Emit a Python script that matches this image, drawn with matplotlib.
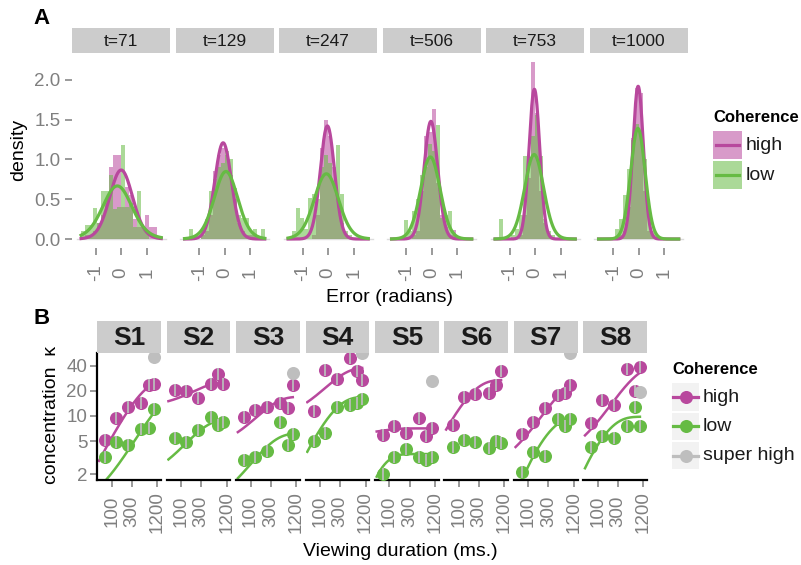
import numpy as np
import matplotlib
matplotlib.use("Agg")
import matplotlib.pyplot as plt
from matplotlib.patches import Rectangle

plt.rcParams['font.family'] = ['Liberation Sans', 'DejaVu Sans']
plt.rcParams['axes.unicode_minus'] = False

# ---- panel A: error histograms with von Mises fits ----
times = [71, 129, 247, 506, 753, 1000]
n_bins = 20
hist_high = [
    [0, 0.05, 0.05, 0.1, 0.2, 0.3, 0.5, 0.9, 1.05, 1.05, 0.4, 0.65, 0.55, 0.25, 0.15, 0.15, 0.3, 0.15, 0.15, 0],
    [0, 0, 0, 0, 0.05, 0.1, 0.3, 0.85, 1.05, 1.15, 1.05, 0.8, 0.5, 0.2, 0.1, 0.05, 0.05, 0.05, 0, 0],
    [0, 0, 0, 0, 0, 0, 0.05, 0.3, 1.15, 1.5, 1.3, 0.9, 0.5, 0.2, 0.05, 0, 0, 0, 0, 0],
    [0, 0, 0, 0, 0, 0.05, 0.1, 0.6, 1.29, 1.35, 1.64, 0.7, 0.3, 0.15, 0.05, 0.11, 0, 0, 0, 0],
    [0, 0, 0, 0, 0, 0, 0.05, 0.3, 0.77, 2.23, 1.58, 0.6, 0.2, 0.05, 0, 0, 0, 0, 0, 0],
    [0, 0, 0, 0, 0, 0.05, 0.1, 0.4, 1.27, 1.9, 1.83, 0.6, 0.1, 0.05, 0, 0, 0, 0, 0, 0],
]
hist_low = [
    [0.1, 0.18, 0.18, 0.39, 0.2, 0.6, 0.6, 0.8, 0.38, 0.4, 1.18, 0.4, 0.45, 0.15, 0.6, 0.15, 0.1, 0, 0, 0],
    [0, 0.13, 0, 0, 0.1, 0.25, 0.6, 0.75, 0.9, 0.95, 1.1, 1.0, 0.64, 0.3, 0.26, 0.26, 0.1, 0.13, 0, 0.13],
    [0, 0.1, 0.39, 0.26, 0.13, 0.52, 0.57, 0.5, 0.9, 1.06, 0.95, 0.7, 1.18, 0.57, 0.1, 0.05, 0, 0, 0, 0],
    [0, 0, 0, 0.24, 0.1, 0.35, 0.5, 0.8, 0.9, 1.19, 1.1, 1.43, 0.26, 0.3, 0.35, 0.05, 0, 0, 0, 0],
    [0, 0.25, 0, 0, 0.05, 0.13, 0.3, 1.04, 1.03, 1.3, 1.56, 1.04, 0.25, 0.1, 0.05, 0, 0, 0, 0, 0],
    [0, 0, 0, 0, 0.13, 0.25, 0.55, 0.88, 1.25, 1.45, 1.35, 1.01, 0.35, 0.1, 0.05, 0, 0, 0, 0, 0],
]
vm_kappa_high = [5.0, 9.45, 12.95, 14.0, 22.5, 23.4]
vm_kappa_low = [3.1, 4.8, 4.5, 6.95, 7.35, 12.4]
vm_mu_high = [0.0, -0.06, -0.03, -0.03, -0.03, -0.02]
vm_mu_low = [-0.15, 0.05, -0.07, -0.05, -0.04, -0.03]

# ---- panel B: concentration per subject ----
subjects = ['S1', 'S2', 'S3', 'S4', 'S5', 'S6', 'S7', 'S8']
durations = [71, 129, 247, 506, 753, 1000]
kappa_high = [
    [5.1, 9.4, 12.9, 14.2, 23.5, 23.9],
    [20.7, 19.8, 16.4, 24.0, 32.0, 24.0],
    [9.6, 11.8, 12.8, 14.2, 12.5, 23.5],
    [11.4, 36.0, 27.5, 49.0, 35.0, 27.0],
    [5.9, 7.5, 6.2, 9.4, 5.7, 7.1],
    [7.8, 17.0, 18.2, 18.8, 23.5, 34.5],
    [6.1, 8.4, 12.4, 17.8, 18.7, 23.2],
    [8.2, 15.5, 13.5, 36.5, 20.0, 38.3],
]
kappa_low = [
    [3.2, 4.9, 4.5, 7.0, 7.1, 12.0],
    [5.4, 4.9, 6.8, 9.8, 7.8, 8.5],
    [2.97, 3.25, 3.8, 8.4, 4.5, 6.15],
    [5.0, 6.25, 12.7, 13.7, 14.2, 16.0],
    [2.0, 3.25, 4.0, 3.2, 3.0, 3.2],
    [4.2, 5.2, 4.85, 4.15, 5.0, 4.7],
    [2.15, 3.7, 3.35, 9.1, 7.6, 9.1],
    [4.2, 5.7, 5.4, 7.5, 12.9, 7.6],
]
super_duration = 1000
kappa_super = [50.5, None, 32.4, 57.0, 26.5, None, 57.0, 19.3]
# saturating fits: kmax * (1 - exp(-(t - t0) / tau))
fit_high = [(27.6, 450, 0), (25.5, 250, -173), (17.0, 241, -64), (38.0, 232, -63),
            (7.1, 60, -100), (27.0, 170, 0), (29.0, 600, -45), (40.0, 600, -45)]
fit_low = [(21.7, 1500, -50), (9.14, 250, -50), (6.2, 234, -30), (17.0, 186, 4),
           (3.5, 43, 17), None, (9.7, 274, 18.5), (9.8, 148.5, 9)]

MAG = '#B8489D'
GRN = '#66BB44'
SUP = '#BEBEBE'
TICK = '#7F7F7F'
STRIP = '#CCCCCC'
TXT = '#1A1A1A'

W, H = 801, 565
fig = plt.figure(figsize=(W / 100, H / 100), dpi=100)


def box(l, t, r, b):
    return [l / W, 1 - b / H, (r - l) / W, (b - t) / H]


def strip(l, t, r, b, label, **kw):
    sa = fig.add_axes(box(l, t, r, b))
    sa.set_facecolor(STRIP)
    sa.set_xticks([])
    sa.set_yticks([])
    for s in sa.spines.values():
        s.set_visible(False)
    sa.text(0.5, 0.47, label, ha='center', va='center', color=TXT,
            transform=sa.transAxes, **kw)


def vonmises(x, mu, k):
    return np.exp(k * (np.cos(x - mu) - 1)) / (2 * np.pi * np.i0(k) * np.exp(-k))


edges = np.linspace(-np.pi / 2, np.pi / 2, n_bins + 1)
centers = (edges[:-1] + edges[1:]) / 2
bw = edges[1] - edges[0]
xs = np.linspace(-np.pi / 2, np.pi / 2, 300)

for i, t in enumerate(times):
    l = 72.3 + 103.5 * i
    r = l + 97.7
    ax = fig.add_axes(box(l, 52.7, r, 247.9))
    strip(l, 28.3, r, 52.7, 't=%d' % t, fontsize=12.5)
    ax.plot([-1.75, 1.75], [0, 0], color='#DDDDDD', lw=1, zorder=0)
    ax.bar(centers, hist_high[i], width=bw, color=MAG, alpha=0.55, lw=0)
    ax.bar(centers, hist_low[i], width=bw, color=GRN, alpha=0.55, lw=0)
    ax.plot(xs, vonmises(xs, vm_mu_high[i], vm_kappa_high[i]), color=MAG, lw=2.3)
    ax.plot(xs, vonmises(xs, vm_mu_low[i], vm_kappa_low[i]), color=GRN, lw=2.3)
    ax.set_xlim(-1.915, 1.915)
    ax.set_ylim(-0.1115, 2.3415)
    for s in ax.spines.values():
        s.set_visible(False)
    ax.set_xticks([-1, 0, 1])
    ax.set_xticklabels(['-1', '0', '1'], rotation=90, va='center', ha='center')
    ax.tick_params(axis='x', length=5, width=1.1, color=TICK, labelcolor=TICK,
                   labelsize=13.5, pad=12.7)
    if i == 0:
        ax.set_yticks([0, 0.5, 1, 1.5, 2])
        ax.set_yticklabels(['0.0', '0.5', '1.0', '1.5', '2.0'])
        ax.tick_params(axis='y', length=5, width=1.1, color=TICK, labelcolor=TICK,
                       labelsize=13.5, pad=3.5)
    else:
        ax.set_yticks([])

# panel B
tgrid = np.geomspace(50, 1000, 200)
for j, subj in enumerate(subjects):
    l = 97.3 + 69.43 * j
    r = l + 63.7
    ax = fig.add_axes(box(l, 352.7, r, 480))
    strip(l, 321, r, 352.7, subj, fontsize=19, fontweight='bold')
    ax.set_xscale('log')
    ax.set_yscale('log')
    for fit, col in ((fit_high[j], MAG), (fit_low[j], GRN)):
        if fit is None:
            continue
        kmax, tau, t0 = fit
        k = kmax * (1 - np.exp(-(tgrid - t0) / tau))
        k[k <= 0] = np.nan
        ax.plot(tgrid, k, color=col, lw=1.8, zorder=2)
    for vals, col in ((kappa_high[j], MAG), (kappa_low[j], GRN)):
        ax.plot(durations, vals, 'o', color=col, ms=9.4, mew=0, zorder=3)
        ax.plot(durations, vals, '|', color='#BBBBBB', ms=8, mew=1.3, zorder=4)
    if kappa_super[j] is not None:
        ax.plot([super_duration], [kappa_super[j]], 'o', color=SUP, ms=9.4, mew=0, zorder=5)
    ax.set_xlim(45.6, 1472)
    ax.set_ylim(1.71, 57.3)
    ax.spines['top'].set_visible(False)
    ax.spines['right'].set_visible(False)
    ax.spines['bottom'].set_linewidth(1.6)
    ax.spines['left'].set_linewidth(1.6)
    ax.spines['left'].set_visible(j == 0)
    ax.minorticks_off()
    ax.set_xticks([100, 300, 1200])
    ax.set_xticklabels(['100', '300', '1200'], rotation=90, va='center', ha='center')
    ax.tick_params(axis='x', which='both', length=4.8, width=1.1, color=TICK,
                   labelcolor=TICK, labelsize=13.5, pad=18)
    if j == 0:
        ax.set_yticks([2, 5, 10, 20, 40])
        ax.set_yticklabels(['2', '5', '10', '20', '40'])
        ax.tick_params(axis='y', length=5, width=1.1, color=TICK, labelcolor=TICK,
                       labelsize=13.5, pad=2.2)
    else:
        ax.set_yticks([])
    ax.minorticks_off()

# overlay for titles, panel letters and legends (pixel coordinates)
ov = fig.add_axes([0, 0, 1, 1], zorder=10)
ov.set_xlim(0, W)
ov.set_ylim(H, 0)
ov.axis('off')
ov.patch.set_alpha(0)

ov.text(42, 18, 'A', fontsize=16, fontweight='bold', ha='center', va='center', color='black')
ov.text(42, 318, 'B', fontsize=16, fontweight='bold', ha='center', va='center', color='black')
ov.text(19, 150, 'density', fontsize=14, rotation=90, ha='center', va='center', color='black')
ov.text(389, 298, 'Error (radians)', fontsize=14, ha='center', va='center', color='black')
ov.text(51, 415, 'concentration  \u03ba', fontsize=14, rotation=90, ha='center', va='center',
        color='black')
ov.text(400, 551, 'Viewing duration (ms.)', fontsize=14, ha='center', va='center', color='black')

# legend A
ov.text(713, 118, 'Coherence', fontsize=12, fontweight='bold', ha='left', va='center')
for n, (lab, col) in enumerate((('high', MAG), ('low', GRN))):
    y0 = 131 + 29.5 * n
    ov.add_patch(Rectangle((713.3, y0), 28.4, 28.4, facecolor=col, alpha=0.55, lw=0))
    ov.plot([716, 739], [y0 + 14.2, y0 + 14.2], color=col, lw=2.3)
    ov.text(745.5, y0 + 14.5, lab, fontsize=14, ha='left', va='center', color=TXT)

# legend B
ov.text(672, 370, 'Coherence', fontsize=12, fontweight='bold', ha='left', va='center')
for n, (lab, col) in enumerate((('high', MAG), ('low', GRN), ('super high', SUP))):
    y0 = 383.3 + 29.2 * n
    ov.add_patch(Rectangle((671.7, y0), 27.6, 27.6, facecolor='#F2F2F2', lw=0))
    ov.plot([673, 698], [y0 + 13.8, y0 + 13.8], color=col, lw=2.3)
    ov.plot([685.5], [y0 + 13.8], 'o', color=col, ms=9.4, mew=0)
    ov.text(703, y0 + 14, lab, fontsize=14, ha='left', va='center', color=TXT)

fig.savefig('out.png', dpi=100)
